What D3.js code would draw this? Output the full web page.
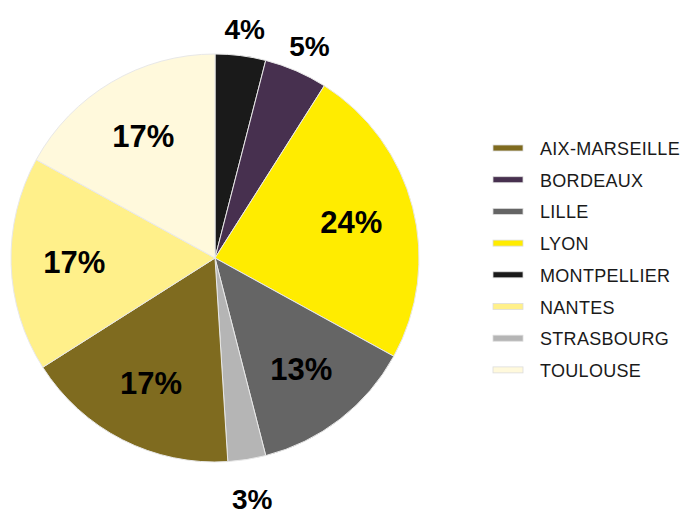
<!DOCTYPE html>
<html>
<head>
<meta charset="utf-8">
<script src="https://cdn.jsdelivr.net/npm/d3@7"></script>
<style>
  html, body { margin: 0; padding: 0; background: #fff; }
  svg { display: block; }
</style>
</head>
<body>
<svg id="chart" width="687" height="517"></svg>
<script>
// Share of each city, in drawing order (clockwise from 12 o'clock)
const sliceCities = ["MONTPELLIER", "BORDEAUX", "LYON", "LILLE", "STRASBOURG", "AIX-MARSEILLE", "NANTES", "TOULOUSE"];
const sliceValues = [4, 5, 24, 13, 3, 17, 17, 17];

// Legend order (alphabetical)
const legendCities = ["AIX-MARSEILLE", "BORDEAUX", "LILLE", "LYON", "MONTPELLIER", "NANTES", "STRASBOURG", "TOULOUSE"];
const cityColors = ["#7f6b1f", "#47304f", "#656565", "#ffec00", "#1a1a1a", "#fff08a", "#b5b5b5", "#fff9dc"];

// Small slices get their label outside the pie
const outsideLabels = ["MONTPELLIER", "BORDEAUX", "STRASBOURG"];

const svg = d3.select("#chart");
const cx = 215, cy = 258, radius = 204;

const color = d3.scaleOrdinal().domain(legendCities).range(cityColors);

const data = sliceCities.map((c, i) => ({ city: c, value: sliceValues[i] }));
const pie = d3.pie().value(d => d.value).sort(null);
const arcs = pie(data);

const arc = d3.arc().innerRadius(0).outerRadius(radius);
const inLabel = d3.arc().innerRadius(radius * 0.69).outerRadius(radius * 0.69);
// outside labels hang just below this radius
const outLabel = d3.arc().innerRadius(radius * 1.165).outerRadius(radius * 1.165);

const g = svg.append("g").attr("transform", `translate(${cx},${cy})`);

g.selectAll("path.slice")
  .data(arcs)
  .join("path")
  .attr("class", "slice")
  .attr("d", arc)
  .attr("fill", d => color(d.data.city))
  .attr("stroke", "#e8e8e8")
  .attr("stroke-width", 1);

g.selectAll("text.pct")
  .data(arcs)
  .join("text")
  .attr("class", "pct")
  .each(function (d) {
    const outside = outsideLabels.includes(d.data.city);
    const [x, y] = (outside ? outLabel : inLabel).centroid(d);
    d3.select(this)
      .attr("transform", `translate(${x},${outside ? y + 7 : y})`)
      .style("font-size", outside ? "28px" : "31px");
  })
  .attr("text-anchor", "middle")
  .attr("dominant-baseline", "central")
  .style("font-family", "'Liberation Sans', Arial, Helvetica, sans-serif")
  .style("font-weight", "bold")
  .attr("fill", "#000")
  .text(d => d.data.value + "%");

// Legend
const legend = svg.append("g").attr("transform", "translate(493,148)");
const rowStep = 31.7;

const item = legend.selectAll("g.item")
  .data(legendCities)
  .join("g")
  .attr("class", "item")
  .attr("transform", (d, i) => `translate(0,${i * rowStep})`);

item.append("rect")
  .attr("x", 0)
  .attr("y", -3)
  .attr("width", 30)
  .attr("height", 6)
  .attr("fill", d => color(d))
  .attr("stroke", "#dcdcdc")
  .attr("stroke-width", 0.8);

item.append("text")
  .attr("x", 47)
  .attr("y", 1)
  .attr("dominant-baseline", "central")
  .style("font-family", "'Liberation Sans', Arial, Helvetica, sans-serif")
  .style("font-size", "18px")
  .style("letter-spacing", "0.3px")
  .attr("fill", "#1a1a1a")
  .text(d => d);
</script>
</body>
</html>
